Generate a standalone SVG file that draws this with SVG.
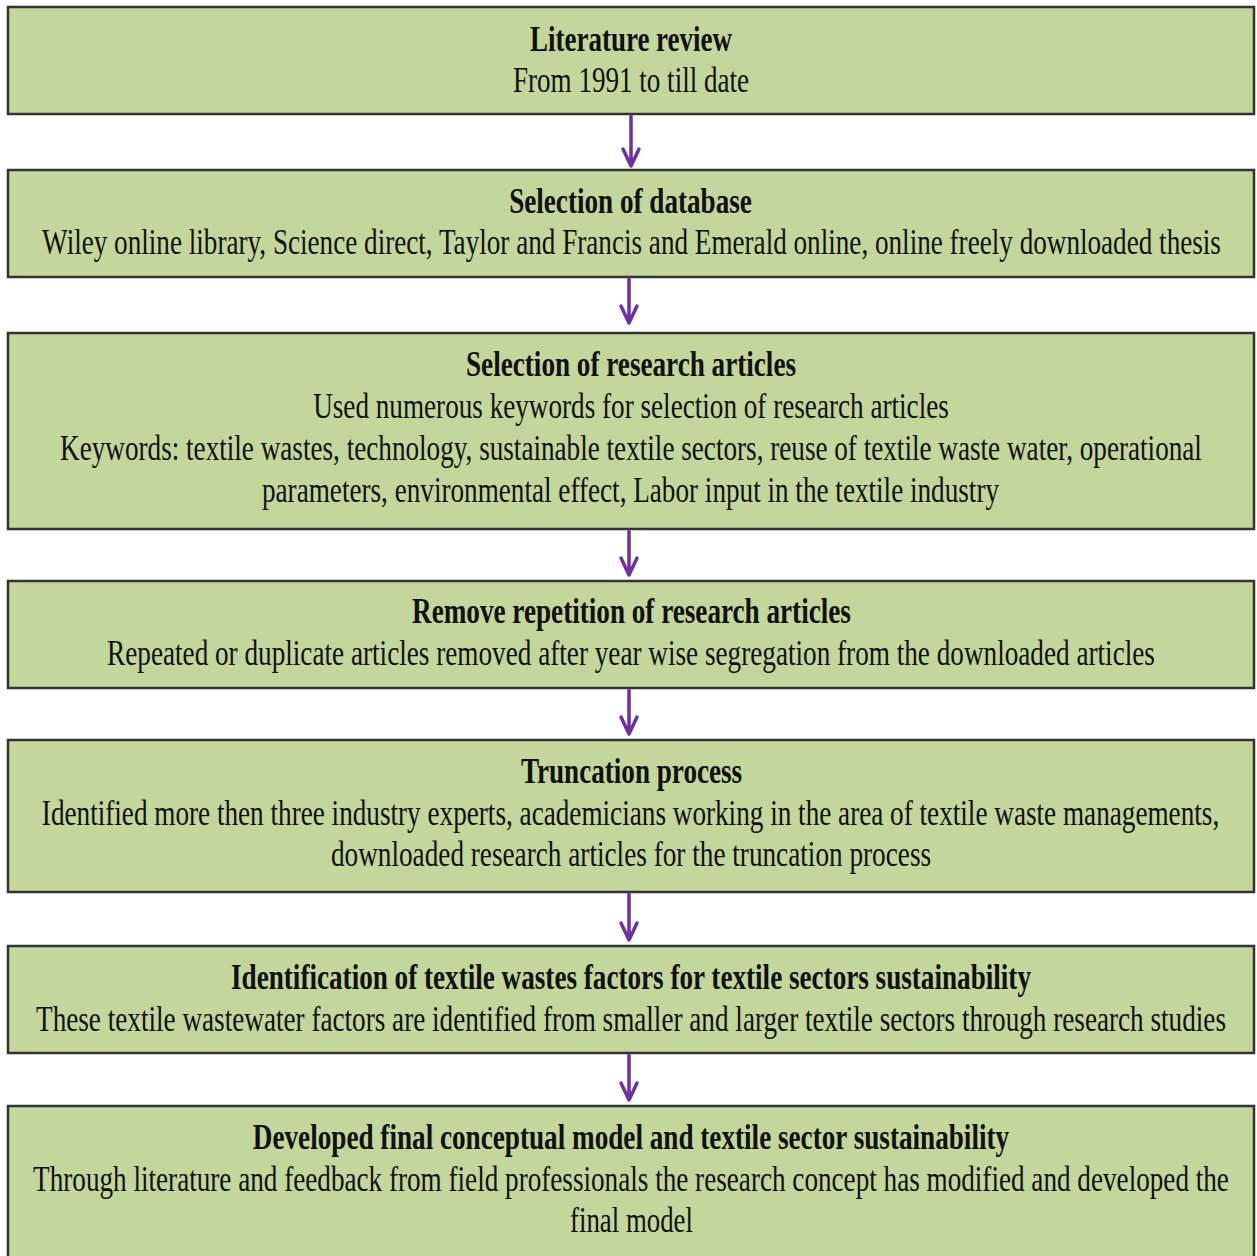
<svg xmlns="http://www.w3.org/2000/svg" width="1257" height="1256" viewBox="0 0 1257 1256">
<style>
.box{fill:#C3D69B;stroke:#333333;stroke-width:2.5}
.t{font-family:"Liberation Serif","Times New Roman",serif;font-size:35px;fill:#111111;text-anchor:middle}
.b{font-weight:bold}
.c{stroke:#7030A0;stroke-width:3.5;fill:none;stroke-linecap:round;stroke-linejoin:round}
</style>
<rect width="1257" height="1256" fill="#FFFFFF"/>
<g id="n1">
<rect class="box" x="8" y="7" width="1246" height="107"/>
<text class="t b" transform="translate(631 51) scale(0.74 1)" textLength="273" lengthAdjust="spacingAndGlyphs">Literature review</text>
<text class="t" transform="translate(631 92) scale(0.74 1)" textLength="319" lengthAdjust="spacingAndGlyphs">From 1991 to till date</text>
</g>
<g id="n2">
<rect class="box" x="8" y="170" width="1246" height="107"/>
<text class="t b" transform="translate(630.5 213) scale(0.74 1)" textLength="328" lengthAdjust="spacingAndGlyphs">Selection of database</text>
<text class="t" transform="translate(631.5 254) scale(0.74 1)" textLength="1593" lengthAdjust="spacingAndGlyphs">Wiley online library, Science direct, Taylor and Francis and Emerald online, online freely downloaded thesis</text>
</g>
<g id="n3">
<rect class="box" x="8" y="333" width="1246" height="196"/>
<text class="t b" transform="translate(631 376) scale(0.74 1)" textLength="446" lengthAdjust="spacingAndGlyphs">Selection of research articles</text>
<text class="t" transform="translate(631 418) scale(0.74 1)" textLength="859" lengthAdjust="spacingAndGlyphs">Used numerous keywords for selection of research articles</text>
<text class="t" transform="translate(631 460) scale(0.74 1)" textLength="1543" lengthAdjust="spacingAndGlyphs">Keywords: textile wastes, technology, sustainable textile sectors, reuse of textile waste water, operational</text>
<text class="t" transform="translate(630.5 502) scale(0.74 1)" textLength="996" lengthAdjust="spacingAndGlyphs">parameters, environmental effect, Labor input in the textile industry</text>
</g>
<g id="n4">
<rect class="box" x="8" y="581" width="1246" height="107"/>
<text class="t b" transform="translate(631.5 623) scale(0.74 1)" textLength="593" lengthAdjust="spacingAndGlyphs">Remove repetition of research articles</text>
<text class="t" transform="translate(631 665) scale(0.74 1)" textLength="1416" lengthAdjust="spacingAndGlyphs">Repeated or duplicate articles removed after year wise segregation from the downloaded articles</text>
</g>
<g id="n5">
<rect class="box" x="8" y="740" width="1246" height="152"/>
<text class="t b" transform="translate(631.5 783) scale(0.74 1)" textLength="299" lengthAdjust="spacingAndGlyphs">Truncation process</text>
<text class="t" transform="translate(630.5 825) scale(0.74 1)" textLength="1591" lengthAdjust="spacingAndGlyphs">Identified more then three industry experts, academicians working in the area of textile waste managements,</text>
<text class="t" transform="translate(631 866) scale(0.74 1)" textLength="811" lengthAdjust="spacingAndGlyphs">downloaded research articles for the truncation process</text>
</g>
<g id="n6">
<rect class="box" x="8" y="946" width="1246" height="107"/>
<text class="t b" transform="translate(631 989) scale(0.74 1)" textLength="1081" lengthAdjust="spacingAndGlyphs">Identification of textile wastes factors for textile sectors sustainability</text>
<text class="t" transform="translate(631 1031) scale(0.74 1)" textLength="1608" lengthAdjust="spacingAndGlyphs">These textile wastewater factors are identified from smaller and larger textile sectors through research studies</text>
</g>
<g id="n7">
<rect class="box" x="8" y="1106" width="1246" height="160"/>
<text class="t b" transform="translate(631 1149) scale(0.74 1)" textLength="1022" lengthAdjust="spacingAndGlyphs">Developed final conceptual model and textile sector sustainability</text>
<text class="t" transform="translate(631 1191) scale(0.74 1)" textLength="1616" lengthAdjust="spacingAndGlyphs">Through literature and feedback from field professionals the research concept has modified and developed the</text>
<text class="t" transform="translate(631.5 1232) scale(0.74 1)" textLength="166" lengthAdjust="spacingAndGlyphs">final model</text>
</g>
<g id="connectors">
<path class="c" d="M631 116 V166 M623 149 L631 166 L639 149"/>
<path class="c" d="M629 279 V323 M621 306 L629 323 L637 306"/>
<path class="c" d="M629 531 V575 M621 558 L629 575 L637 558"/>
<path class="c" d="M629 690 V734 M621 717 L629 734 L637 717"/>
<path class="c" d="M629 894 V940 M621 923 L629 940 L637 923"/>
<path class="c" d="M629 1055 V1100 M621 1083 L629 1100 L637 1083"/>
</g>
</svg>
